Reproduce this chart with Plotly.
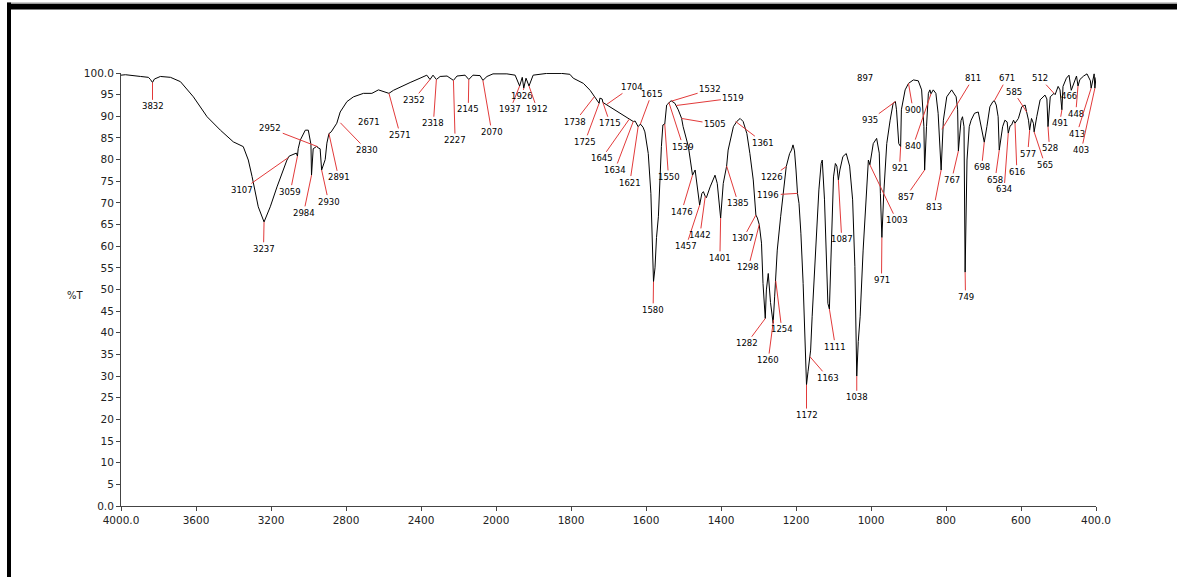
import plotly.graph_objects as go

# ---------------- data ----------------
# IR spectrum, high-wavenumber part (4000-2000 cm-1)
wn_hi = [4000, 3976, 3896, 3854, 3843, 3832, 3822, 3790, 3736, 3683, 3614, 3541, 3470, 3401,
         3348, 3321, 3301, 3284, 3268, 3237, 3204, 3168, 3135, 3115, 3103, 3081, 3065, 3059,
         3055, 3044, 3017, 3001, 2987, 2984, 2975, 2955, 2952, 2938, 2930, 2911, 2902, 2891,
         2879, 2849, 2831, 2795, 2760, 2707, 2662, 2627, 2600, 2571, 2547, 2511, 2458, 2405,
         2369, 2352, 2336, 2318, 2298, 2261, 2227, 2208, 2165, 2145, 2123, 2085, 2070, 2048,
         2016, 2000]
t_hi = [99.5, 99.6, 99.2, 99.0, 98.5, 97.8, 98.6, 99.2, 99.0, 98.0, 94.5, 89.9, 86.8, 84.1,
        83.0, 79.9, 76.1, 72.3, 69.1, 65.6, 69.1, 73.7, 77.6, 79.9, 80.8, 81.3, 81.5, 80.8,
        82.5, 84.5, 86.8, 86.8, 83.5, 76.4, 82.5, 83.1, 82.8, 82.5, 77.6, 80.0, 83.8, 86.0,
        86.4, 88.4, 91.0, 93.4, 94.5, 95.3, 95.3, 96.1, 95.8, 95.3, 96.0, 96.8, 97.8, 98.8,
        99.5, 98.5, 99.5, 98.5, 99.2, 99.3, 98.3, 99.3, 99.5, 98.5, 99.5, 99.4, 98.3, 99.2,
        99.8, 99.8]

# IR spectrum, low-wavenumber part (2000-400 cm-1)
wn_lo = [2000, 1971, 1949, 1937, 1930, 1926, 1920, 1912, 1901, 1865, 1825, 1803, 1794, 1776,
         1767, 1749, 1738, 1730, 1725, 1723, 1717, 1715, 1696, 1669, 1647, 1638, 1634, 1629,
         1621, 1615, 1608, 1603, 1594, 1587, 1583, 1580, 1576, 1572, 1567, 1563, 1559, 1555,
         1550, 1545, 1539, 1533, 1523, 1514, 1505, 1501, 1487, 1478, 1476, 1469, 1465, 1457,
         1451, 1447, 1442, 1439, 1429, 1416, 1410, 1405, 1401, 1394, 1385, 1381, 1367, 1358,
         1349, 1341, 1331, 1323, 1314, 1307, 1303, 1298, 1292, 1288, 1282, 1279, 1274, 1268,
         1261, 1257, 1254, 1250, 1241, 1232, 1226, 1217, 1212, 1208, 1204, 1200, 1196, 1192,
         1187, 1181, 1176, 1172, 1168, 1164, 1161, 1157, 1148, 1139, 1133, 1130, 1124, 1119,
         1115, 1111, 1108, 1104, 1100, 1095, 1091, 1087, 1083, 1075, 1066, 1057, 1049, 1043,
         1040, 1038, 1034, 1029, 1021, 1012, 1007, 1003, 994, 985, 978, 975, 971, 966,
         958, 949, 941, 935, 932, 926, 921, 919, 909, 900, 887, 874, 865, 859,
         857, 852, 847, 843, 840, 834, 827, 821, 818, 813, 807, 798, 785, 773,
         769, 767, 760, 756, 752, 750, 749, 744, 738, 733, 724, 714, 711, 701,
         698, 691, 683, 675, 671, 666, 661, 658, 649, 643, 637, 634, 629, 625,
         620, 616, 607, 598, 589, 585, 580, 577, 572, 567, 565, 558, 549, 536,
         531, 528, 522, 512, 509, 501, 496, 491, 488, 479, 472, 466, 457, 452,
         448, 443, 433, 424, 415, 413, 406, 405, 403, 400]
t_lo = [99.8, 99.8, 99.5, 97.0, 99.0, 96.5, 98.8, 97.0, 99.5, 99.9, 99.9, 99.7, 98.8, 98.0,
        97.6, 96.0, 94.5, 93.4, 93.0, 94.2, 94.0, 93.2, 92.2, 90.7, 89.5, 89.1, 88.8, 88.9,
        87.6, 88.2, 87.5, 86.4, 81.4, 72.2, 59.9, 51.8, 55.0, 62.0, 66.8, 77.6, 83.0, 88.0,
        88.2, 92.6, 93.2, 93.6, 93.0, 91.5, 89.5, 87.6, 83.0, 77.6, 76.4, 77.6, 74.5, 69.5,
        72.2, 72.6, 71.5, 71.2, 73.7, 76.4, 74.5, 69.1, 66.5, 74.5, 78.5, 82.2, 87.6, 88.8,
        89.5, 88.8, 86.0, 81.4, 75.3, 67.2, 66.5, 65.0, 60.7, 51.4, 43.3, 49.9, 53.7, 47.0,
        42.2, 48.3, 52.0, 59.1, 66.8, 74.5, 78.4, 81.4, 82.2, 83.4, 82.0, 77.6, 72.2, 69.9,
        63.0, 51.4, 36.0, 28.0, 31.0, 34.5, 36.0, 43.7, 59.1, 73.0, 79.1, 79.9, 70.7, 55.3,
        46.8, 45.5, 55.3, 66.8, 76.0, 79.1, 78.5, 75.3, 77.6, 80.7, 81.4, 78.5, 70.7, 55.3,
        42.0, 30.0, 38.0, 43.7, 59.1, 72.2, 79.9, 78.8, 83.7, 84.9, 81.5, 72.2, 62.0, 72.2,
        83.7, 89.1, 93.0, 93.4, 91.5, 83.7, 83.0, 91.5, 96.1, 97.6, 98.4, 98.2, 96.1, 87.6,
        77.6, 87.6, 95.3, 96.1, 95.2, 96.1, 95.3, 90.7, 85.3, 77.6, 89.1, 94.5, 96.1, 94.5,
        91.5, 82.0, 89.0, 89.9, 87.6, 69.1, 54.0, 79.9, 87.6, 89.1, 90.7, 91.0, 89.5, 84.5,
        84.0, 87.6, 92.2, 93.4, 93.6, 92.6, 89.9, 82.2, 87.6, 89.1, 88.7, 86.1, 87.8, 88.0,
        89.1, 88.4, 89.5, 92.2, 92.6, 91.0, 89.1, 86.8, 89.5, 88.4, 86.4, 89.9, 93.8, 94.9,
        94.0, 87.6, 94.5, 95.3, 95.0, 96.9, 96.1, 91.5, 96.9, 98.8, 99.5, 96.0, 98.2, 99.3,
        97.0, 98.5, 99.3, 99.8, 98.2, 96.5, 99.3, 99.8, 96.5, 99.0]

# Peak picks: wavenumber (label) and %T at the picked point
peak_wn = [3832, 3237, 3107, 3059, 2984, 2952, 2930, 2891, 2830, 2671, 2571, 2352, 2318, 2227,
           2145, 2070,
           1937, 1926, 1912, 1738, 1725, 1704, 1715, 1645, 1634, 1621, 1615, 1580, 1550, 1539,
           1532, 1519, 1505, 1476, 1457, 1442, 1401, 1385, 1361, 1307, 1298, 1282, 1260, 1254,
           1226, 1196, 1172, 1163, 1111, 1087, 1038, 1003, 971, 935, 921, 900, 897, 857,
           840, 813, 811, 767, 749, 698, 671, 658, 634, 616, 585, 577, 565, 528,
           512, 491, 466, 448, 413, 403]
peak_t = [97.8, 65.6, 80.5, 80.8, 76.4, 83.0, 77.6, 86.0, 88.5, 95.3, 95.3, 98.5, 98.5, 98.3,
          98.5, 98.3,
          97.0, 96.5, 97.0, 94.5, 93.0, 92.8, 93.2, 89.3, 88.8, 87.6, 88.2, 51.8, 88.2, 93.2,
          93.5, 92.5, 89.5, 76.4, 69.5, 71.5, 66.5, 78.5, 88.8, 67.2, 65.0, 43.3, 43.0, 52.0,
          78.4, 72.2, 28.0, 34.5, 45.5, 75.3, 30.0, 78.8, 62.0, 93.4, 83.0, 97.6, 97.6, 77.6,
          95.2, 77.6, 87.0, 82.0, 54.0, 84.0, 93.6, 82.2, 86.1, 88.4, 91.0, 86.8, 86.4, 87.6,
          95.3, 91.5, 96.0, 97.0, 96.5, 96.5]

# ---------------- layout of the peak labels (text anchor, in axis units) ----------------
label_pos = [(3832, 92.3), (3240, 59.4), (3354, 73.0), (3097, 72.6), (3026, 67.7), (3204, 87.2),
             (2893, 70.3), (2840, 75.9), (2689, 82.2), (2680, 88.8), (2511, 85.7), (2440, 93.8),
             (2334, 88.4), (2218, 84.5), (2148, 91.6), (2023, 86.4),
             (1962, 91.6), (1931, 94.6), (1890, 91.6), (1789, 88.8), (1763, 84.1), (1638, 96.8),
             (1696, 88.4), (1718, 80.3), (1683, 77.6), (1643, 74.7), (1585, 95.2), (1581, 45.3),
             (1540, 76.0), (1501, 83.0), (1429, 96.2), (1367, 94.2), (1416, 88.2), (1505, 68.0),
             (1493, 60.0), (1456, 62.6), (1403, 57.3), (1354, 69.9), (1287, 83.9), (1341, 61.8),
             (1327, 55.1), (1331, 37.6), (1274, 33.7), (1238, 40.8), (1265, 76.0), (1274, 71.8),
             (1172, 21.0), (1114, 29.6), (1095, 36.8), (1078, 61.6), (1038, 25.1), (932, 66.0),
             (972, 52.2), (1003, 89.1), (924, 78.0), (888, 91.5), (1016, 98.8), (907, 71.4),
             (888, 83.1), (832, 69.1), (728, 98.8), (785, 75.3), (748, 48.3), (705, 78.2),
             (638, 98.8), (669, 75.4), (645, 73.1), (611, 77.2), (620, 95.7), (582, 81.4),
             (536, 78.8), (524, 82.6), (549, 98.8), (497, 88.4), (472, 94.8), (454, 90.6),
             (451, 86.0), (439, 82.2)]
no_leader = {2671, 897}

LEADER = "#e23a3a"
FONT = "DejaVu Sans"

fig = go.Figure()
fig.add_trace(go.Scatter(x=wn_hi, y=t_hi, mode="lines", xaxis="x", yaxis="y",
                         line=dict(color="black", width=1), showlegend=False, hoverinfo="skip"))
fig.add_trace(go.Scatter(x=wn_lo, y=t_lo, mode="lines", xaxis="x2", yaxis="y",
                         line=dict(color="black", width=1), showlegend=False, hoverinfo="skip"))

annotations = []
for w, t, (lx, ly) in zip(peak_wn, peak_t, label_pos):
    ax_name = "x" if w >= 2000 else "x2"
    if w in no_leader:
        annotations.append(dict(x=lx, y=ly, xref=ax_name, yref="y", text=str(w),
                                showarrow=False, font=dict(family=FONT, size=8.5, color="black")))
    else:
        annotations.append(dict(x=w, y=t, xref=ax_name, yref="y", text=str(w),
                                showarrow=True, arrowhead=0, arrowwidth=1, arrowcolor=LEADER,
                                standoff=0, ax=lx, ay=ly, axref=ax_name, ayref="y",
                                font=dict(family=FONT, size=8.5, color="black")))

# y-axis title "%T" (horizontal)
annotations.append(dict(x=-0.036, y=0.487, xref="paper", yref="paper", text="%T",
                        xanchor="right", showarrow=False,
                        font=dict(family=FONT, size=10, color="#222")))

# frame of the original picture (top and left black bars)
PX_L, PX_W, PY_B, PY_H = 121, 975, 506, 433
def px(v):
    return (v - PX_L) / PX_W
def py(v):
    return (PY_B - v) / PY_H

shapes = [
    dict(type="rect", xref="paper", yref="paper", x0=px(7), x1=px(1180), y0=py(9.5), y1=py(4),
         fillcolor="black", line=dict(width=0), layer="above"),
    dict(type="rect", xref="paper", yref="paper", x0=px(7), x1=px(1180), y0=py(4), y1=py(2.5),
         fillcolor="#9a9a9a", line=dict(width=0), layer="above"),
    dict(type="rect", xref="paper", yref="paper", x0=px(7), x1=px(11), y0=py(580), y1=py(2.5),
         fillcolor="black", line=dict(width=0), layer="above"),
]

axis_common = dict(showgrid=False, zeroline=False, showline=True, linecolor="#444", linewidth=1,
                   ticks="outside", ticklen=4, tickcolor="#444")

fig.update_layout(
    width=1177, height=577,
    margin=dict(l=121, r=81, t=73, b=71),
    paper_bgcolor="white", plot_bgcolor="white",
    xaxis=dict(domain=[0, 5 / 13], range=[4000, 2000], anchor="y",
               tickmode="array", tickvals=[4000, 3600, 3200, 2800, 2400],
               ticktext=["4000.0", "3600", "3200", "2800", "2400"],
               tickfont=dict(family=FONT, size=10.5, color="#222"), **axis_common),
    xaxis2=dict(domain=[5 / 13, 1], range=[2000, 400], anchor="y",
                tickmode="array", tickvals=[2000, 1800, 1600, 1400, 1200, 1000, 800, 600, 400],
                ticktext=["2000", "1800", "1600", "1400", "1200", "1000", "800", "600", "400.0"],
                tickfont=dict(family=FONT, size=10.5, color="#222"), **axis_common),
    yaxis=dict(range=[0, 100], tickmode="array", tickvals=list(range(0, 101, 5)),
               ticktext=["0.0"] + [str(v) for v in range(5, 100, 5)] + ["100.0"],
               tickfont=dict(family=FONT, size=10.5, color="#222"), **axis_common),
    annotations=annotations,
    shapes=shapes,
)

fig.write_html("out.html", config={"displayModeBar": False},
               post_script="document.body.style.margin='0px';document.body.style.padding='0px';")
